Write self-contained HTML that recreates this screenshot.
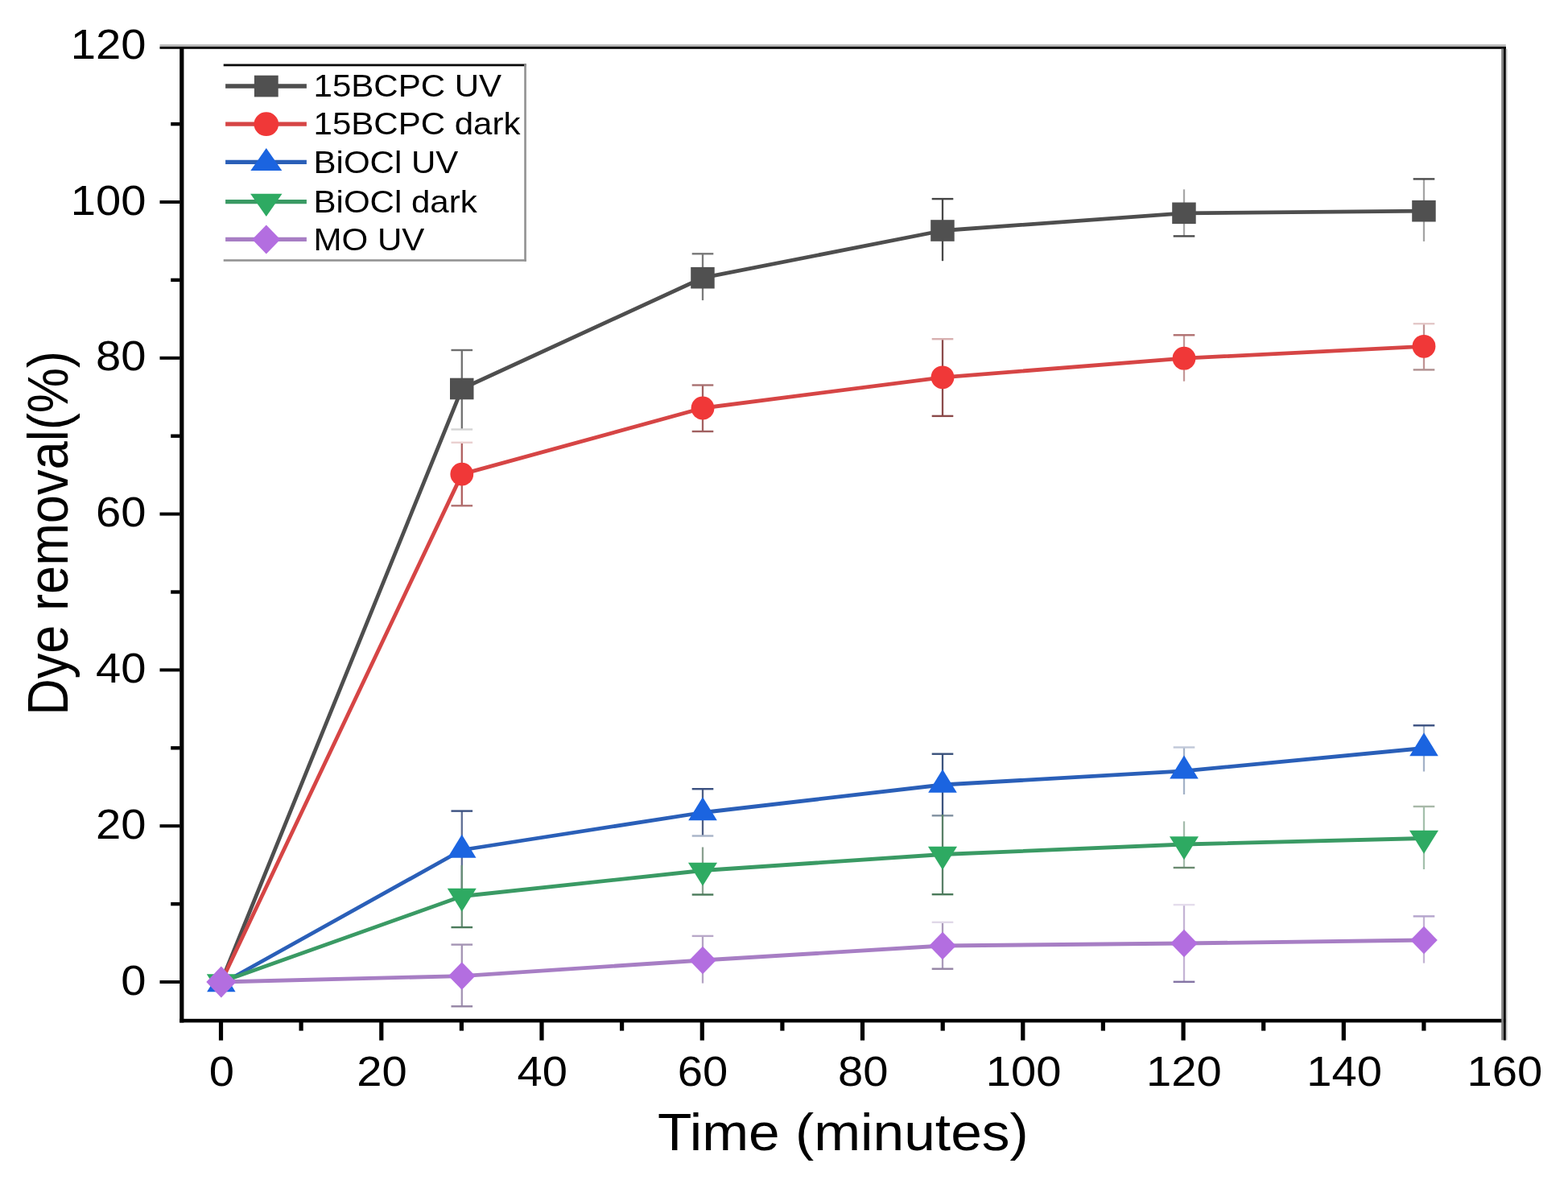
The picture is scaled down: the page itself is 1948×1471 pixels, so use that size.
<!DOCTYPE html>
<html><head><meta charset="utf-8"><title>Dye removal</title>
<style>html,body{margin:0;padding:0;background:#fff;}svg{display:block;}</style></head>
<body>
<svg width="1948" height="1471" viewBox="0 0 1948 1471" font-family="'Liberation Sans', sans-serif" fill="#000">
<rect width="1948" height="1471" fill="#fff"/>
<g id="data">
<polyline points="274.8,1220.0 573.8,483.0 873.0,345.2 1171.0,286.5 1471.0,264.8 1769.0,262.2" fill="none" stroke="#4e4e4e" stroke-width="4.8" stroke-linejoin="round"/>
<line x1="573.8" y1="435" x2="573.8" y2="533.5" stroke="#707070" stroke-width="2.3"/>
<line x1="560.5" y1="435" x2="587.1" y2="435" stroke="#6e6e6e" stroke-width="2.4"/>
<line x1="560.5" y1="533.5" x2="587.1" y2="533.5" stroke="#d4d4d4" stroke-width="2.4"/>
<line x1="873.0" y1="315.3" x2="873.0" y2="373.1" stroke="#7a7a7a" stroke-width="2.3"/>
<line x1="859.7" y1="315.3" x2="886.3" y2="315.3" stroke="#787878" stroke-width="2.4"/>
<line x1="1171.0" y1="247.1" x2="1171.0" y2="324.2" stroke="#484848" stroke-width="2.3"/>
<line x1="1157.7" y1="247.1" x2="1184.3" y2="247.1" stroke="#454545" stroke-width="2.4"/>
<line x1="1471.0" y1="235.3" x2="1471.0" y2="293.4" stroke="#a8a8a8" stroke-width="2.3"/>
<line x1="1457.7" y1="293.4" x2="1484.3" y2="293.4" stroke="#4a4a4a" stroke-width="2.4"/>
<line x1="1769.0" y1="222.4" x2="1769.0" y2="299.9" stroke="#a4a4a4" stroke-width="2.3"/>
<line x1="1755.7" y1="222.4" x2="1782.3" y2="222.4" stroke="#4a4a4a" stroke-width="2.4"/>
<rect x="559.0" y="469.7" width="29.5" height="26.6" fill="#505050"/>
<rect x="858.2" y="331.9" width="29.5" height="26.6" fill="#505050"/>
<rect x="1156.2" y="273.2" width="29.5" height="26.6" fill="#505050"/>
<rect x="1456.2" y="251.5" width="29.5" height="26.6" fill="#505050"/>
<rect x="1754.2" y="248.9" width="29.5" height="26.6" fill="#505050"/>
<polyline points="274.8,1220.0 573.8,589.1 873.0,507.0 1171.0,468.8 1471.0,445.2 1769.0,430.3" fill="none" stroke="#d64545" stroke-width="4.8" stroke-linejoin="round"/>
<line x1="573.8" y1="549.8" x2="573.8" y2="628.3" stroke="#b06060" stroke-width="2.3"/>
<line x1="560.5" y1="549.8" x2="587.1" y2="549.8" stroke="#ead0d0" stroke-width="2.4"/>
<line x1="560.5" y1="628.3" x2="587.1" y2="628.3" stroke="#b07070" stroke-width="2.4"/>
<line x1="873.0" y1="478.5" x2="873.0" y2="536" stroke="#a46060" stroke-width="2.3"/>
<line x1="859.7" y1="478.5" x2="886.3" y2="478.5" stroke="#a87070" stroke-width="2.4"/>
<line x1="859.7" y1="536" x2="886.3" y2="536" stroke="#a06060" stroke-width="2.4"/>
<line x1="1171.0" y1="421.2" x2="1171.0" y2="516.9" stroke="#8c4c4c" stroke-width="2.3"/>
<line x1="1157.7" y1="421.2" x2="1184.3" y2="421.2" stroke="#d8b0b0" stroke-width="2.4"/>
<line x1="1157.7" y1="516.9" x2="1184.3" y2="516.9" stroke="#8a4848" stroke-width="2.4"/>
<line x1="1471.0" y1="416.3" x2="1471.0" y2="473.7" stroke="#c49898" stroke-width="2.3"/>
<line x1="1457.7" y1="416.3" x2="1484.3" y2="416.3" stroke="#b07070" stroke-width="2.4"/>
<line x1="1769.0" y1="402.2" x2="1769.0" y2="459.4" stroke="#c09494" stroke-width="2.3"/>
<line x1="1755.7" y1="402.2" x2="1782.3" y2="402.2" stroke="#e4c8c8" stroke-width="2.4"/>
<line x1="1755.7" y1="459.4" x2="1782.3" y2="459.4" stroke="#b09090" stroke-width="2.4"/>
<circle cx="573.8" cy="589.1" r="14.4" fill="#f03838"/>
<circle cx="873.0" cy="507.0" r="14.4" fill="#f03838"/>
<circle cx="1171.0" cy="468.8" r="14.4" fill="#f03838"/>
<circle cx="1471.0" cy="445.2" r="14.4" fill="#f03838"/>
<circle cx="1769.0" cy="430.3" r="14.4" fill="#f03838"/>
<polyline points="274.8,1222.5 573.8,1056.0 873.0,1009.5 1171.0,975.0 1471.0,957.9 1769.0,929.5" fill="none" stroke="#2a5fb8" stroke-width="4.8" stroke-linejoin="round"/>
<line x1="573.8" y1="1007.6" x2="573.8" y2="1106" stroke="#5e6e94" stroke-width="2.3"/>
<line x1="560.5" y1="1007.6" x2="587.1" y2="1007.6" stroke="#3a5080" stroke-width="2.4"/>
<line x1="873.0" y1="980.2" x2="873.0" y2="1038.5" stroke="#4e5e84" stroke-width="2.3"/>
<line x1="859.7" y1="980.2" x2="886.3" y2="980.2" stroke="#3a5080" stroke-width="2.4"/>
<line x1="859.7" y1="1038.5" x2="886.3" y2="1038.5" stroke="#a8b4c8" stroke-width="2.4"/>
<line x1="1171.0" y1="936.7" x2="1171.0" y2="1013.3" stroke="#3c547e" stroke-width="2.3"/>
<line x1="1157.7" y1="936.7" x2="1184.3" y2="936.7" stroke="#38507a" stroke-width="2.4"/>
<line x1="1157.7" y1="1013.3" x2="1184.3" y2="1013.3" stroke="#8090a0" stroke-width="2.4"/>
<line x1="1471.0" y1="928.5" x2="1471.0" y2="987" stroke="#a4b2c8" stroke-width="2.3"/>
<line x1="1457.7" y1="928.5" x2="1484.3" y2="928.5" stroke="#c0c8d8" stroke-width="2.4"/>
<line x1="1769.0" y1="901.3" x2="1769.0" y2="958.5" stroke="#a4b2c8" stroke-width="2.3"/>
<line x1="1755.7" y1="901.3" x2="1782.3" y2="901.3" stroke="#3a5080" stroke-width="2.4"/>
<polygon points="274.8,1203.2 292.6,1232.2 257.1,1232.2" fill="#1b64e0"/>
<polygon points="573.8,1036.7 591.5,1065.7 556.0,1065.7" fill="#1b64e0"/>
<polygon points="873.0,990.2 890.8,1019.2 855.2,1019.2" fill="#1b64e0"/>
<polygon points="1171.0,955.7 1188.8,984.7 1153.2,984.7" fill="#1b64e0"/>
<polygon points="1471.0,938.6 1488.8,967.6 1453.2,967.6" fill="#1b64e0"/>
<polygon points="1769.0,910.2 1786.8,939.2 1751.2,939.2" fill="#1b64e0"/>
<polyline points="274.8,1220.0 573.8,1113.5 873.0,1081.5 1171.0,1061.5 1471.0,1049.0 1769.0,1041.5" fill="none" stroke="#3a9a64" stroke-width="4.8" stroke-linejoin="round"/>
<line x1="573.8" y1="1075" x2="573.8" y2="1152.1" stroke="#6a9078" stroke-width="2.3"/>
<line x1="560.5" y1="1152.1" x2="587.1" y2="1152.1" stroke="#4a7a5a" stroke-width="2.4"/>
<line x1="873.0" y1="1052.5" x2="873.0" y2="1111.5" stroke="#8aa090" stroke-width="2.3"/>
<line x1="859.7" y1="1111.5" x2="886.3" y2="1111.5" stroke="#4a7a5a" stroke-width="2.4"/>
<line x1="1171.0" y1="1012" x2="1171.0" y2="1111.2" stroke="#5a8068" stroke-width="2.3"/>
<line x1="1157.7" y1="1111.2" x2="1184.3" y2="1111.2" stroke="#4a7a5a" stroke-width="2.4"/>
<line x1="1471.0" y1="1020.4" x2="1471.0" y2="1078" stroke="#a4bcac" stroke-width="2.3"/>
<line x1="1457.7" y1="1078" x2="1484.3" y2="1078" stroke="#6a8a70" stroke-width="2.4"/>
<line x1="1769.0" y1="1002" x2="1769.0" y2="1080" stroke="#a4c0ac" stroke-width="2.3"/>
<line x1="1755.7" y1="1002" x2="1782.3" y2="1002" stroke="#a8b8a8" stroke-width="2.4"/>
<polygon points="256.8,1210.3 292.8,1210.3 274.8,1239.3" fill="#2eaa62"/>
<polygon points="555.8,1103.8 591.8,1103.8 573.8,1132.8" fill="#2eaa62"/>
<polygon points="855.0,1071.8 891.0,1071.8 873.0,1100.8" fill="#2eaa62"/>
<polygon points="1153.0,1051.8 1189.0,1051.8 1171.0,1080.8" fill="#2eaa62"/>
<polygon points="1453.0,1039.3 1489.0,1039.3 1471.0,1068.3" fill="#2eaa62"/>
<polygon points="1751.0,1031.8 1787.0,1031.8 1769.0,1060.8" fill="#2eaa62"/>
<polyline points="274.8,1220.0 573.8,1212.6 873.0,1193.0 1171.0,1175.0 1471.0,1172.0 1769.0,1168.0" fill="none" stroke="#a77ec4" stroke-width="4.8" stroke-linejoin="round"/>
<line x1="573.8" y1="1173.6" x2="573.8" y2="1250.3" stroke="#a494b4" stroke-width="2.3"/>
<line x1="560.5" y1="1173.6" x2="587.1" y2="1173.6" stroke="#a494b4" stroke-width="2.4"/>
<line x1="560.5" y1="1250.3" x2="587.1" y2="1250.3" stroke="#9484a4" stroke-width="2.4"/>
<line x1="873.0" y1="1162.9" x2="873.0" y2="1221.6" stroke="#b4a4c4" stroke-width="2.3"/>
<line x1="859.7" y1="1162.9" x2="886.3" y2="1162.9" stroke="#b8a8c8" stroke-width="2.4"/>
<line x1="1171.0" y1="1145.8" x2="1171.0" y2="1203.7" stroke="#aa9aba" stroke-width="2.3"/>
<line x1="1157.7" y1="1145.8" x2="1184.3" y2="1145.8" stroke="#e0d8e8" stroke-width="2.4"/>
<line x1="1157.7" y1="1203.7" x2="1184.3" y2="1203.7" stroke="#9484a4" stroke-width="2.4"/>
<line x1="1471.0" y1="1124.1" x2="1471.0" y2="1219.8" stroke="#c4b4d4" stroke-width="2.3"/>
<line x1="1457.7" y1="1124.1" x2="1484.3" y2="1124.1" stroke="#e4dcec" stroke-width="2.4"/>
<line x1="1457.7" y1="1219.8" x2="1484.3" y2="1219.8" stroke="#8474a4" stroke-width="2.4"/>
<line x1="1769.0" y1="1138.4" x2="1769.0" y2="1196.6" stroke="#c4b4d4" stroke-width="2.3"/>
<line x1="1755.7" y1="1138.4" x2="1782.3" y2="1138.4" stroke="#b4a4cc" stroke-width="2.4"/>
<polygon points="274.8,1200.5 293.3,1220.0 274.8,1239.5 256.3,1220.0" fill="#b36ee0"/>
<polygon points="573.8,1195.3 590.5,1212.6 573.8,1229.8 557.0,1212.6" fill="#b36ee0"/>
<polygon points="873.0,1175.8 889.8,1193.0 873.0,1210.2 856.2,1193.0" fill="#b36ee0"/>
<polygon points="1171.0,1157.8 1187.8,1175.0 1171.0,1192.2 1154.2,1175.0" fill="#b36ee0"/>
<polygon points="1471.0,1154.8 1487.8,1172.0 1471.0,1189.2 1454.2,1172.0" fill="#b36ee0"/>
<polygon points="1769.0,1150.8 1785.8,1168.0 1769.0,1185.2 1752.2,1168.0" fill="#b36ee0"/>
</g>
<g id="axes">
<rect x="223.2" y="57" width="5.2" height="1213.5" fill="#000"/>
<rect x="223.2" y="1265.8" width="1647.5" height="4.6" fill="#000"/>
<rect x="198.5" y="55.2" width="1672.3" height="2.8" fill="#b4b4b4"/>
<rect x="198.5" y="58" width="1672.3" height="2.8" fill="#000"/>
<rect x="1865.2" y="60.8" width="3" height="1231.5" fill="#808080"/>
<rect x="1868.1" y="58" width="2.8" height="1234.5" fill="#000"/>
<rect x="1870.8" y="60.8" width="1.8" height="1231.5" fill="#c8c8c8"/>
<rect x="198.5" y="1218.0" width="25" height="4" fill="#000"/>
<rect x="212.2" y="1120.9" width="11.5" height="4.4" fill="#000"/>
<rect x="198.5" y="1024.2" width="25" height="4" fill="#000"/>
<rect x="212.2" y="927.1" width="11.5" height="4.4" fill="#000"/>
<rect x="198.5" y="830.4" width="25" height="4" fill="#000"/>
<rect x="212.2" y="733.3" width="11.5" height="4.4" fill="#000"/>
<rect x="198.5" y="636.6" width="25" height="4" fill="#000"/>
<rect x="212.2" y="539.5" width="11.5" height="4.4" fill="#000"/>
<rect x="198.5" y="442.8" width="25" height="4" fill="#000"/>
<rect x="212.2" y="345.7" width="11.5" height="4.4" fill="#000"/>
<rect x="198.5" y="249.0" width="25" height="4" fill="#000"/>
<rect x="212.2" y="151.9" width="11.5" height="4.4" fill="#000"/>
<rect x="271.9" y="1270" width="5.2" height="22.6" fill="#000"/>
<rect x="371.5" y="1270" width="5.2" height="10.6" fill="#000"/>
<rect x="471.2" y="1270" width="5.2" height="22.6" fill="#000"/>
<rect x="570.8" y="1270" width="5.2" height="10.6" fill="#000"/>
<rect x="670.4" y="1270" width="5.2" height="22.6" fill="#000"/>
<rect x="770.0" y="1270" width="5.2" height="10.6" fill="#000"/>
<rect x="869.7" y="1270" width="5.2" height="22.6" fill="#000"/>
<rect x="969.3" y="1270" width="5.2" height="10.6" fill="#000"/>
<rect x="1068.9" y="1270" width="5.2" height="22.6" fill="#000"/>
<rect x="1168.6" y="1270" width="5.2" height="10.6" fill="#000"/>
<rect x="1268.2" y="1270" width="5.2" height="22.6" fill="#000"/>
<rect x="1367.8" y="1270" width="5.2" height="10.6" fill="#000"/>
<rect x="1467.5" y="1270" width="5.2" height="22.6" fill="#000"/>
<rect x="1567.1" y="1270" width="5.2" height="10.6" fill="#000"/>
<rect x="1666.7" y="1270" width="5.2" height="22.6" fill="#000"/>
<rect x="1766.3" y="1270" width="5.2" height="10.6" fill="#000"/>
</g>
<g id="labels">
<text transform="translate(181.5 1235.5) scale(1.07 1)" text-anchor="end" font-size="52.5">0</text>
<text transform="translate(181.5 1041.7) scale(1.07 1)" text-anchor="end" font-size="52.5">20</text>
<text transform="translate(181.5 847.9) scale(1.07 1)" text-anchor="end" font-size="52.5">40</text>
<text transform="translate(181.5 654.1) scale(1.07 1)" text-anchor="end" font-size="52.5">60</text>
<text transform="translate(181.5 460.3) scale(1.07 1)" text-anchor="end" font-size="52.5">80</text>
<text transform="translate(181.5 266.5) scale(1.07 1)" text-anchor="end" font-size="52.5">100</text>
<text transform="translate(181.5 72.7) scale(1.07 1)" text-anchor="end" font-size="52.5">120</text>
<text transform="translate(275.3 1348.8) scale(1.07 1)" text-anchor="middle" font-size="52.5">0</text>
<text transform="translate(474.6 1348.8) scale(1.07 1)" text-anchor="middle" font-size="52.5">20</text>
<text transform="translate(673.8 1348.8) scale(1.07 1)" text-anchor="middle" font-size="52.5">40</text>
<text transform="translate(873.1 1348.8) scale(1.07 1)" text-anchor="middle" font-size="52.5">60</text>
<text transform="translate(1072.3 1348.8) scale(1.07 1)" text-anchor="middle" font-size="52.5">80</text>
<text transform="translate(1271.6 1348.8) scale(1.07 1)" text-anchor="middle" font-size="52.5">100</text>
<text transform="translate(1470.9 1348.8) scale(1.07 1)" text-anchor="middle" font-size="52.5">120</text>
<text transform="translate(1670.1 1348.8) scale(1.07 1)" text-anchor="middle" font-size="52.5">140</text>
<text transform="translate(1869.4 1348.8) scale(1.07 1)" text-anchor="middle" font-size="52.5">160</text>
<text transform="translate(1047.3 1428.5) scale(1.086 1)" text-anchor="middle" font-size="64">Time (minutes)</text>
<text transform="translate(83.6 662.4) rotate(-90) scale(1 1.1)" text-anchor="middle" font-size="63.2">Dye removal(%)</text>
</g>
<g id="legend">
<rect x="277.7" y="79.5" width="376.2" height="2.8" fill="#0a0a0a"/>
<rect x="277.7" y="322.2" width="376.2" height="2.6" fill="#939393"/>
<rect x="651.2" y="80" width="2.7" height="244.7" fill="#959595"/>
<line x1="280.1" y1="107" x2="380.9" y2="107" stroke="#4e4e4e" stroke-width="5.3"/>
<rect x="315.9" y="93.7" width="29.8" height="26.7" fill="#505050"/>
<text transform="translate(389.5 120.2) scale(1.07 1)" font-size="39.3">15BCPC UV</text>
<line x1="280.1" y1="154.2" x2="380.9" y2="154.2" stroke="#d64545" stroke-width="5.3"/>
<ellipse cx="330.8" cy="154.2" rx="15.3" ry="14.9" fill="#f03838"/>
<text transform="translate(389.5 167.4) scale(1.07 1)" font-size="39.3">15BCPC dark</text>
<line x1="280.1" y1="201.4" x2="380.9" y2="201.4" stroke="#2a5fb8" stroke-width="5.3"/>
<polygon points="330.8,184.0 350.3,212.1 311.3,212.1" fill="#1b64e0"/>
<text transform="translate(389.5 214.6) scale(1.07 1)" font-size="39.3">BiOCl UV</text>
<line x1="280.1" y1="250.6" x2="380.9" y2="250.6" stroke="#3a9a64" stroke-width="5.3"/>
<polygon points="311.1,240.7 350.5,240.7 330.8,269.1" fill="#2eaa62"/>
<text transform="translate(389.5 263.8) scale(1.07 1)" font-size="39.3">BiOCl dark</text>
<line x1="280.1" y1="297.4" x2="380.9" y2="297.4" stroke="#a77ec4" stroke-width="5.3"/>
<polygon points="330.8,279.4 348.3,297.4 330.8,315.4 313.3,297.4" fill="#b36ee0"/>
<text transform="translate(389.5 310.6) scale(1.07 1)" font-size="39.3">MO UV</text>
</g>
</svg>
</body></html>
